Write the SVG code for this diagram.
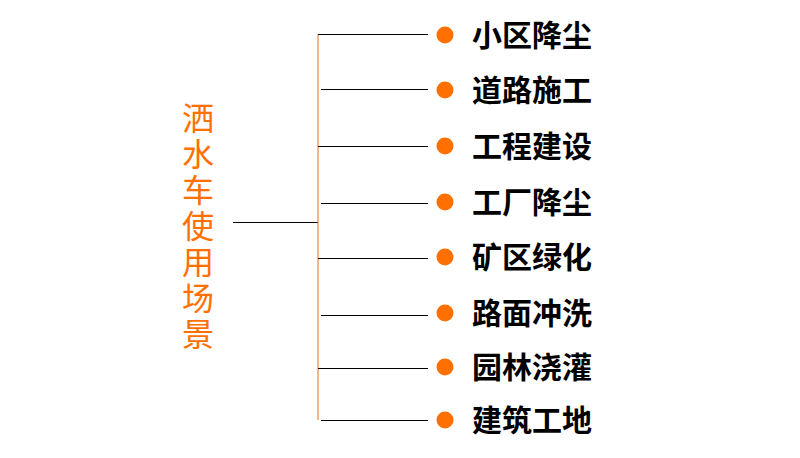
<svg xmlns="http://www.w3.org/2000/svg" width="800" height="458" viewBox="0 0 800 458">
<style>
.l{stroke:#000;stroke-width:1;fill:none}
.d{fill:#ff7000}
.t{font-family:"Noto Sans CJK SC",sans-serif;font-weight:bold;font-size:30px;fill:#000}
.v{font-family:"Noto Sans CJK SC",sans-serif;font-size:32px;fill:#ff7000;writing-mode:vertical-rl;letter-spacing:4px}
</style>
<rect width="800" height="458" fill="#fff"/>
<g id="connectors">
<path class="l" d="M233 222.5H318"/>
<path d="M318 34V420" stroke="#e0701a" stroke-width="1"/>
<path class="l" d="M318 34.5H428M321 89.5H428M318 146.5H428M321 203.5H428M318 258.5H428M321 315.5H428M318 368.5H428M321 420.5H428"/>
</g>
<g id="root"><text class="v" x="198" y="102">洒水车使用场景</text></g>
<g id="n1"><circle class="d" cx="445" cy="35" r="8.5"/><text class="t" x="472" y="46">小区降尘</text></g>
<g id="n2"><circle class="d" cx="445" cy="90" r="8.5"/><text class="t" x="472" y="101">道路施工</text></g>
<g id="n3"><circle class="d" cx="445" cy="146" r="8.5"/><text class="t" x="472" y="157">工程建设</text></g>
<g id="n4"><circle class="d" cx="445" cy="202" r="8.5"/><text class="t" x="472" y="213">工厂降尘</text></g>
<g id="n5"><circle class="d" cx="445" cy="257" r="8.5"/><text class="t" x="472" y="268">矿区绿化</text></g>
<g id="n6"><circle class="d" cx="445" cy="313" r="8.5"/><text class="t" x="472" y="324">路面冲洗</text></g>
<g id="n7"><circle class="d" cx="445" cy="367" r="8.5"/><text class="t" x="472" y="378">园林浇灌</text></g>
<g id="n8"><circle class="d" cx="445" cy="420" r="8.5"/><text class="t" x="472" y="431">建筑工地</text></g>
</svg>
